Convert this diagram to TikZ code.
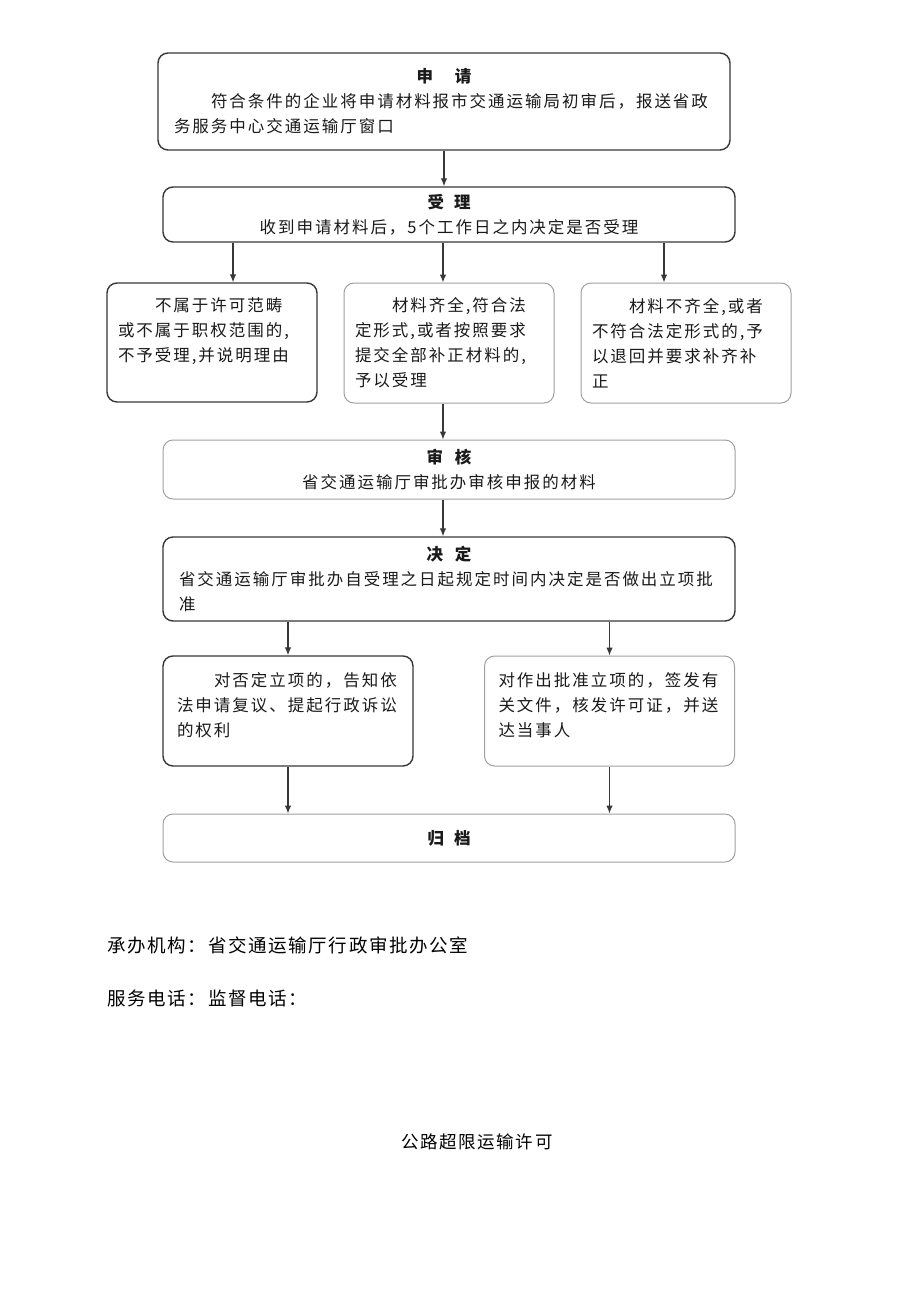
\documentclass[tikz,border=0pt]{standalone}
\usepackage{fontspec}
\newfontfamily\cjk[LetterSpace=12]{Noto Sans CJK SC}
\newfontfamily\cjkfoot[LetterSpace=9]{Noto Sans CJK SC}
\usetikzlibrary{arrows.meta, positioning}

\definecolor{edgedark}{HTML}{383838}
\definecolor{edgelight}{HTML}{A0A0A0}
\definecolor{boxtext}{HTML}{1A1A1A}

\newcommand\boxtitle[1]{\makebox[\linewidth]{\fontsize{16.5}{25}\selectfont\bfseries #1}}
\newcommand\ind{\hspace*{37pt}}

\begin{document}
\begin{tikzpicture}[
    x=1pt, y=-1pt,
    font=\cjk\fontsize{16.5}{25}\selectfont,
    darkbox/.style={rectangle, draw=edgedark, line width=1.4pt, rounded corners=10pt, inner xsep=16pt, inner ysep=0pt, align=left, text=boxtext},
    lightbox/.style={darkbox, draw=edgelight, line width=1pt},
    wide/.style={text width=540pt, minimum height=#1},
    narrow/.style={inner xsep=11pt, text width=188pt, minimum height=#1},
    half/.style={inner xsep=14pt, text width=222pt, minimum height=#1},
    foot/.style={anchor=west, inner sep=0pt, font=\cjkfoot\fontsize{18.5}{22}\selectfont},
    line/.style={draw=edgedark, line width=1.2pt, -{Latex[length=8pt,width=6.5pt]}}
]
\path[use as bounding box, fill=white] (0,0) rectangle (920,1301);

% Place the nodes
\node [darkbox, wide=97pt] (apply) at (444,101.5) {\boxtitle{申\hspace{22pt}请}\\
    \ind 符合条件的企业将申请材料报市交通运输局初审后，报送省政\\
    务服务中心交通运输厅窗口};
\node [darkbox, wide=55pt, align=center] (accept) at (449,214.5) {{\fontsize{16.5}{25}\selectfont\bfseries 受\hspace{10pt}理}\\
    收到申请材料后，5个工作日之内决定是否受理};

\node [darkbox, narrow=119pt] (reject) at (212,342.5) {\ind 不属于许可范畴\\
    或不属于职权范围的,\\
    不予受理,并说明理由\\ \mbox{}};
\node [lightbox, narrow=120pt] (admit) at (449,343) {\ind 材料齐全,符合法\\
    定形式,或者按照要求\\
    提交全部补正材料的,\\
    予以受理};
\node [lightbox, narrow=120pt] (supp) at (686,343) {\ind 材料不齐全,或者\\
    不符合法定形式的,予\\
    以退回并要求补齐补\\
    正};

\node [lightbox, wide=59pt, align=center] (review) at (449,469.5) {{\fontsize{16.5}{25}\selectfont\bfseries 审\hspace{12pt}核}\\
    省交通运输厅审批办审核申报的材料};
\node [darkbox, wide=84pt] (decide) at (449,579) {\boxtitle{决\hspace{12pt}定}\\
    省交通运输厅审批办自受理之日起规定时间内决定是否做出立项批\\
    准};

\node [darkbox, half=110pt] (deny) at (288,711) {\ind 对否定立项的，告知依\\
    法申请复议、提起行政诉讼\\
    的权利\\[-12pt] \mbox{}};
\node [lightbox, half=110pt] (grant) at (609.5,711) {对作出批准立项的，签发有\\
    关文件，核发许可证，并送\\
    达当事人\\[-12pt] \mbox{}};

\node [lightbox, wide=48pt, align=center] (archive) at (449,838) {{\fontsize{16.5}{25}\selectfont\bfseries 归\hspace{10pt}档}};

\node [foot] (office) at (107,945) {承办机构：省交通运输厅行政审批办公室};
\node [foot] (phone) at (107,998) {服务电话：监督电话：};
\node [font=\cjkfoot\fontsize{17.5}{22}\selectfont] (doctitle) at (477,1142) {公路超限运输许可};

% Draw the lines (arrows)
\path [line] (apply) -- (apply |- accept.north);
\path [line] ([xshift=21pt]reject.north |- accept.south) -- ([xshift=21pt]reject.north);
\path [line] ([xshift=-6pt]admit.north |- accept.south) -- ([xshift=-6pt]admit.north);
\path [line] ([xshift=-22pt]supp.north |- accept.south) -- ([xshift=-22pt]supp.north);
\path [line] ([xshift=-6pt]admit.south) -- ([xshift=-6pt]admit.south |- review.north);
\path [line] ([xshift=-6pt]review.south) -- ([xshift=-6pt]review.south |- decide.north);
\path [line] (deny.north |- decide.south) -- (deny.north);
\path [line] (grant.north |- decide.south) -- (grant.north);
\path [line] (deny) -- (deny |- archive.north);
\path [line] (grant) -- (grant |- archive.north);

\end{tikzpicture}
\end{document}
